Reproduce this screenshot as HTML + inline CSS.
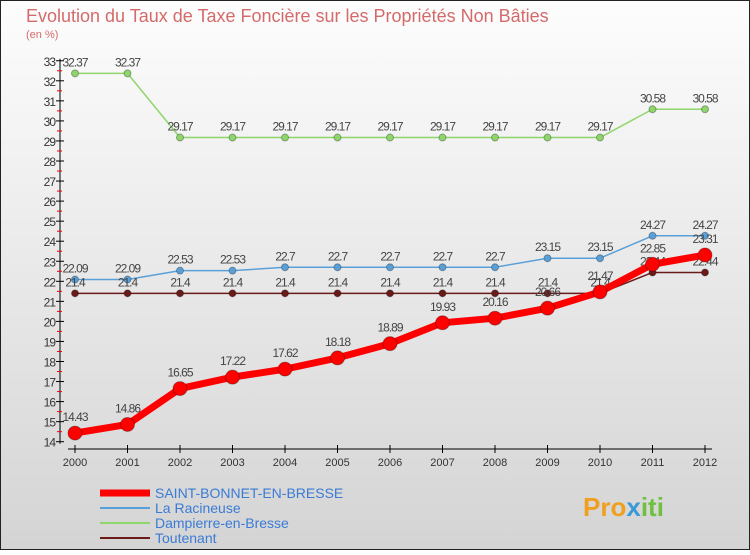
<!DOCTYPE html>
<html><head><meta charset="utf-8"><style>
body{margin:0;width:750px;height:550px;overflow:hidden;font-family:"Liberation Sans",sans-serif}
</style></head><body>
<svg width="750" height="550" xmlns="http://www.w3.org/2000/svg" id="svg">
<defs><linearGradient id="bg" x1="0" y1="0" x2="0" y2="1"><stop offset="0" stop-color="#fdfdfd"/><stop offset="1" stop-color="#d4d4d4"/></linearGradient></defs>
<rect x="0.5" y="0.5" width="749" height="549" fill="url(#bg)" stroke="#222"/>
<text x="26" y="22" font-size="18" fill="#d46a6a">Evolution du Taux de Taxe Foncière sur les Propriétés Non Bâties</text>
<text x="26" y="38" font-size="11" fill="#d46a6a">(en %)</text>
<g id="axes"></g><g id="series"></g><g id="legend"></g>
<text x="583" y="516" font-size="26" font-weight="bold" fill="#f0a020">Pro<tspan fill="#3a9ad9">x</tspan><tspan fill="#70c040">iti</tspan></text>
</svg>
<script>
const years=[2000,2001,2002,2003,2004,2005,2006,2007,2008,2009,2010,2011,2012];
const yTicks=[14,15,16,17,18,19,20,21,22,23,24,25,26,27,28,29,30,31,32,33];
const saint=[14.43,14.86,16.65,17.22,17.62,18.18,18.89,19.93,20.16,20.66,21.47,22.85,23.31];
const racineuse=[22.09,22.09,22.53,22.53,22.7,22.7,22.7,22.7,22.7,23.15,23.15,24.27,24.27];
const dampierre=[32.37,32.37,29.17,29.17,29.17,29.17,29.17,29.17,29.17,29.17,29.17,30.58,30.58];
const toutenant=[21.4,21.4,21.4,21.4,21.4,21.4,21.4,21.4,21.4,21.4,21.4,22.44,22.44];
const seriesNames=["SAINT-BONNET-EN-BRESSE","La Racineuse","Dampierre-en-Bresse","Toutenant"];
const NS="http://www.w3.org/2000/svg";
const X=i=>75+i*52.5, Y=v=>441.7-(v-14)*20.05;
function mk(t,a,p,txt){const e=document.createElementNS(NS,t);for(const k in a)e.setAttribute(k,a[k]);if(txt!==undefined)e.textContent=txt;p.appendChild(e);return e;}
const ax=document.getElementById('axes');
let e=mk('line',{x1:60,y1:Y(33)-2,x2:60,y2:Y(14)+2,stroke:'#000'},ax);

yTicks.forEach(v=>{mk('line',{x1:56,x2:64,y1:Y(v),y2:Y(v),stroke:'#000'},ax);
 if(v<33)mk('line',{x1:57,x2:62,y1:Y(v+0.5),y2:Y(v+0.5),stroke:'#e00'},ax);
 let t=mk('text',{x:55,y:Y(v)+5,'font-size':12,'text-anchor':'end',fill:'#333','letter-spacing':'-1'},ax,v);
 });
e=mk('line',{x1:68,y1:449,x2:712,y2:449,stroke:'#000'},ax);

years.forEach((y,i)=>{mk('line',{x1:X(i),x2:X(i),y1:445,y2:453,stroke:'#000'},ax);
 let t=mk('text',{x:X(i),y:466,'font-size':11,'text-anchor':'middle',fill:'#333'},ax,y);
 });
const sg=document.getElementById('series');
function draw(data,color,w,r,name,dy){
 const g=mk('g',{},sg);
 mk('polyline',{points:data.map((v,i)=>X(i)+','+Y(v)).join(' '),fill:'none',stroke:color,'stroke-width':w,'stroke-linejoin':'round'},g);
 data.forEach((v,i)=>{mk('circle',{cx:X(i),cy:Y(v),r:r,fill:color,stroke:'rgba(0,0,0,0.3)'},g);
  mk('text',{x:X(i),y:Y(v)+dy,'font-size':12,'text-anchor':'middle',fill:'#444','letter-spacing':'-1'},g,String(v));});
}
draw(dampierre,'#8ed66a',1.5,3.5,'series-dampierre',-7);
draw(racineuse,'#5aa0d8',1.5,3.5,'series-racineuse',-7);
draw(toutenant,'#6b1a1a',1.5,3.5,'series-toutenant',-7);
draw(saint,'#ff0000',7,7,'series-saint-bonnet',-12);
const lg=document.getElementById('legend');
const lc=['#ff0000','#5aa0d8','#8ed66a','#6b1a1a'],lw=[7,2,2,2];
seriesNames.forEach((n,i)=>{const g=mk('g',{},lg);
 const y=493+i*15;mk('line',{x1:100,x2:150,y1:y,y2:y,stroke:lc[i],'stroke-width':lw[i]},g);
 mk('text',{x:155,y:y+5,'font-size':14,fill:'#3a7bd5'},g,n);});
</script>
</body></html>
